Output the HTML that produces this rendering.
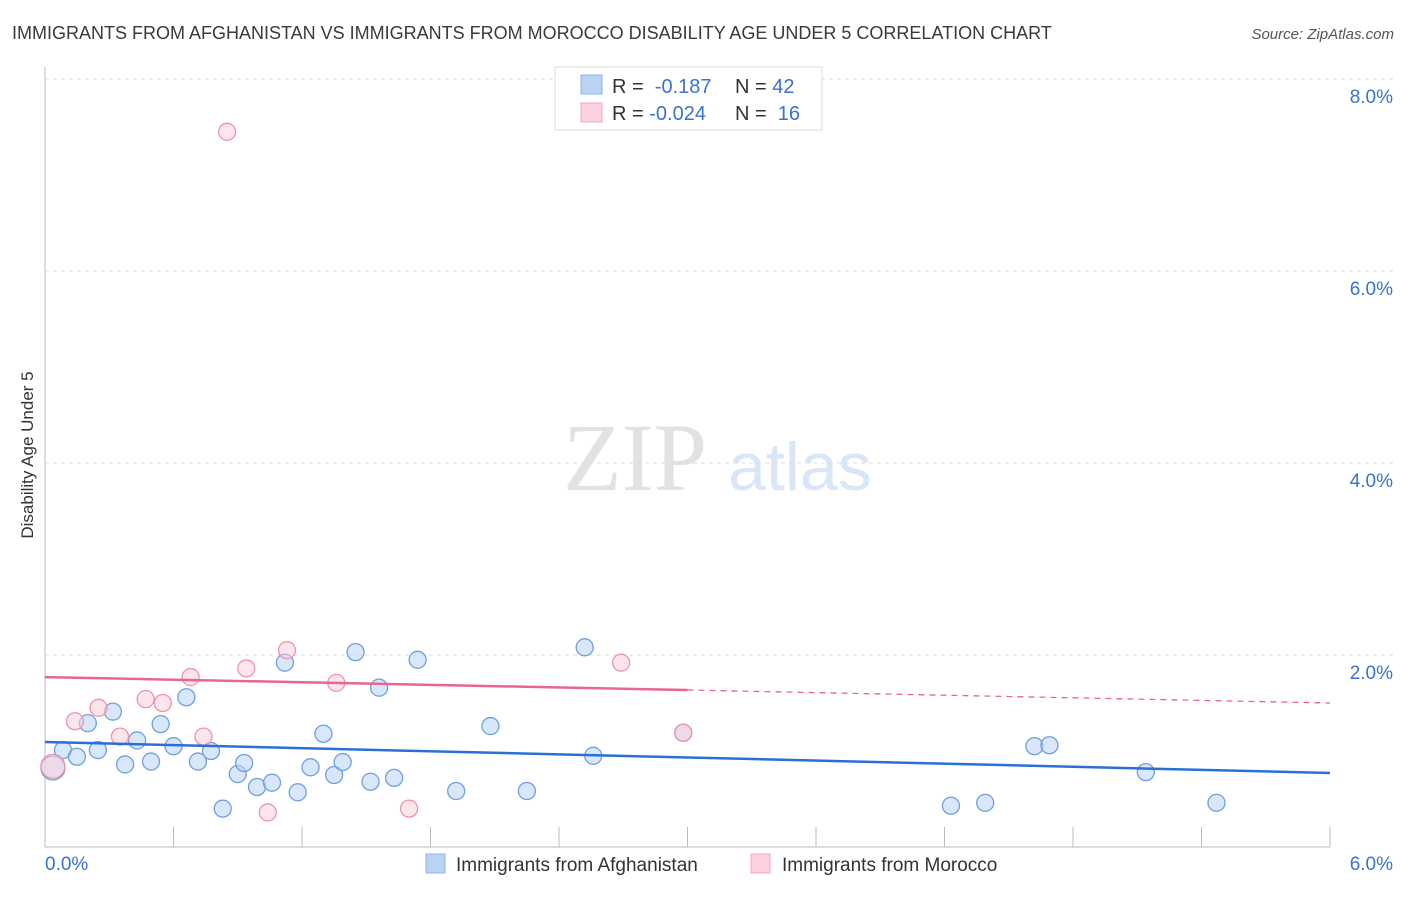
<!DOCTYPE html>
<html><head><meta charset="utf-8"><style>
body{margin:0;background:#fff;font-family:"Liberation Sans",sans-serif;}
</style></head><body>
<svg id="c" width="1406" height="892" xmlns="http://www.w3.org/2000/svg">
<text x="12" y="39" font-size="18" fill="#3a3a3a">IMMIGRANTS FROM AFGHANISTAN VS IMMIGRANTS FROM MOROCCO DISABILITY AGE UNDER 5 CORRELATION CHART</text>
<text x="1394" y="39" font-size="15" fill="#555" text-anchor="end" font-style="italic">Source: ZipAtlas.com</text>
<text x="635" y="490" font-size="96" fill="#e2e2e2" text-anchor="middle" font-family="Liberation Serif,serif">ZIP</text>
<text x="800" y="490" font-size="68" fill="#d8e6f6" text-anchor="middle">atlas</text>
<g id="grid"></g>
<g id="axes"></g>
<g id="marks"></g>
<text transform="translate(33,455) rotate(-90)" font-size="17" fill="#333" text-anchor="middle">Disability Age Under 5</text>
<g>
<rect x="555" y="67" width="267" height="63" fill="#fff" stroke="#ddd"/>
<rect x="581" y="75" width="21" height="19" fill="#b9d3f5" stroke="#8fb5e8"/>
<rect x="581" y="103" width="21" height="19" fill="#fcd0dc" stroke="#f1a7bc"/>
<text x="612" y="93" font-size="20" fill="#333">R = <tspan fill="#3a72d0">&#160;-0.187</tspan><tspan x="735">N = </tspan><tspan fill="#3a72d0">42</tspan></text>
<text x="612" y="120" font-size="20" fill="#333">R = <tspan fill="#3a72d0">-0.024</tspan><tspan x="735">N = </tspan><tspan fill="#3a72d0">&#160;16</tspan></text>
</g>
<g>
<rect x="426" y="854" width="19" height="19" fill="#b9d3f5" stroke="#8fb5e8"/>
<text x="456" y="871" font-size="19" fill="#333">Immigrants from Afghanistan</text>
<rect x="751" y="854" width="19" height="19" fill="#fcd0dc" stroke="#f1a7bc"/>
<text x="782" y="871" font-size="19" fill="#333">Immigrants from Morocco</text>
</g>
</svg>
<script>
const afgX=[0.037,0.084,0.149,0.20,0.247,0.317,0.374,0.43,0.495,0.54,0.60,0.66,0.714,0.775,0.83,0.90,0.93,0.99,1.06,1.12,1.18,1.24,1.30,1.35,1.39,1.45,1.52,1.56,1.63,1.74,1.92,2.08,2.25,2.52,2.56,2.98,4.23,4.39,4.62,4.69,5.14,5.47];
const afgY=[0.823,1.01,0.94,1.29,1.01,1.41,0.86,1.11,0.89,1.28,1.05,1.56,0.89,1.0,0.40,0.76,0.875,0.625,0.67,1.92,0.57,0.83,1.18,0.75,0.885,2.03,0.68,1.66,0.72,1.95,0.583,1.26,0.583,2.08,0.95,1.19,0.43,0.46,1.05,1.06,0.78,0.46];
const morX=[0.037,0.14,0.25,0.35,0.47,0.55,0.68,0.74,0.85,0.94,1.04,1.13,1.36,1.70,2.69,2.98];
const morY=[0.84,1.31,1.45,1.15,1.54,1.50,1.77,1.15,7.45,1.86,0.36,2.05,1.71,0.40,1.92,1.19];
const afgTrend=[1.094,0.771];
const morTrend=[1.77,1.50];
const morSolidEnd=3.0;
const yTicks=[2,4,6,8];
const yTickLabels=["2.0%","4.0%","6.0%","8.0%"];
const xTickLabels=["0.0%","6.0%"];
const NS="http://www.w3.org/2000/svg";
const X0=45,X1=1330,Y0=847,PX=96;
const sx=v=>X0+(X1-X0)*v/6, sy=v=>Y0-v*PX;
function mk(tag,attrs,parent){const e=document.createElementNS(NS,tag);for(const k in attrs)e.setAttribute(k,attrs[k]);document.getElementById(parent).appendChild(e);return e;}
yTicks.forEach((t,i)=>{
 const l=mk('line',{x1:X0,x2:1394,y1:sy(t),y2:sy(t),stroke:'#ddd','stroke-dasharray':'4,4'},'grid');
 
 
 const tx=mk('text',{x:1393,y:sy(t)+24,'font-size':19,fill:'#3a72d0','text-anchor':'end'},'grid');
 tx.textContent=yTickLabels[i];
 
 
});
const ax=mk('line',{x1:X0,x2:X0,y1:67,y2:Y0,stroke:'#bbb'},'axes');


const bx=mk('line',{x1:X0,x2:X1,y1:Y0,y2:Y0,stroke:'#bbb'},'axes');


for(let i=1;i<=10;i++){
 const t=mk('line',{x1:sx(i*0.6),x2:sx(i*0.6),y1:827,y2:Y0,stroke:'#bbb'},'axes');
 
 
}
[[0,'start',45],[6,'end',1393]].forEach((d,i)=>{
 const t=mk('text',{x:d[2],y:870,'font-size':19,fill:'#3a72d0','text-anchor':d[1]},'axes');
 t.textContent=xTickLabels[i];
 
 
});
function pts(xs,ys,fill,stroke,name){
 xs.forEach((x,i)=>{
  const c=mk('circle',{cx:sx(x),cy:sy(ys[i]),r:i===0?12:8.5,fill:fill,'fill-opacity':0.55,stroke:stroke,'stroke-width':1.3},'marks');
  
  
 });
}
pts(afgX,afgY,'#b9d3f5','#6f9fe0','point-afghanistan');
pts(morX,morY,'#fcd0dc','#ee93ad','point-morocco');
const lb=mk('line',{x1:sx(0),y1:sy(afgTrend[0]),x2:sx(6),y2:sy(afgTrend[1]),stroke:'#2a6fd6','stroke-width':2.5},'marks');


const mm=morTrend[0]+(morTrend[1]-morTrend[0])*morSolidEnd/6;
const lp=mk('line',{x1:sx(0),y1:sy(morTrend[0]),x2:sx(morSolidEnd),y2:sy(mm),stroke:'#e9678e','stroke-width':2.5},'marks');


const lpd=mk('line',{x1:sx(morSolidEnd),y1:sy(mm),x2:sx(6),y2:sy(morTrend[1]),stroke:'#e9678e','stroke-width':1.3,'stroke-dasharray':'6,5'},'marks');


</script>
</body></html>
